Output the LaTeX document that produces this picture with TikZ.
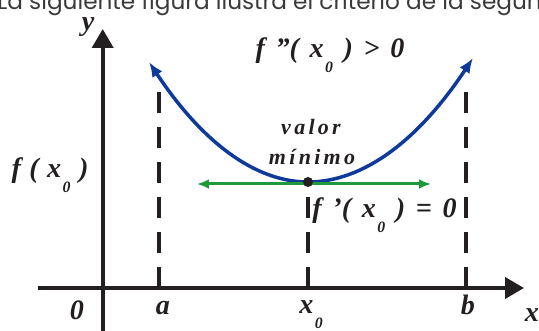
\documentclass[tikz,border=0pt]{standalone}
\usepackage{fontspec}
\setmainfont{Liberation Serif}
\newfontfamily\headfont{Poppins}
\usetikzlibrary{arrows.meta, positioning}
\definecolor{curveblue}{HTML}{0F3A9C}
\definecolor{tangentgreen}{HTML}{1E9A3C}
\definecolor{inkblack}{HTML}{231F20}
\definecolor{headgray}{HTML}{3A3A3A}
\newcommand{\xnull}{x\kern0.05em\raisebox{-0.5em}{\fontsize{9}{9}\selectfont 0}}
\newcommand{\gp}{\hspace{0.38em}}
\newcommand{\sgp}{\hspace{0.3em}}

\begin{document}
\begin{tikzpicture}[
    x=0.02cm, y=-0.02cm,
    every node/.style={font=\fontsize{16}{18}\selectfont\bfseries\itshape, text=inkblack, inner sep=0pt},
    spaced/.style={font=\fontsize{12.5}{14}\selectfont\bfseries\itshape\addfontfeatures{LetterSpace=15}},
    intro/.style={font=\headfont\fontsize{13.2}{15}\selectfont, text=headgray},
    axis/.style={line width=0.08cm, inkblack, -{Triangle[length=0.38cm, width=0.42cm]}},
    guide/.style={line width=0.07cm, inkblack, dash pattern=on 0.42cm off 0.28cm},
    curve/.style={line width=0.07cm, curveblue, {Latex[length=0.3cm, width=0.24cm]}-{Latex[length=0.3cm, width=0.24cm]}},
    tangent/.style={line width=0.06cm, tangentgreen, {Latex[length=0.24cm, width=0.2cm]}-{Latex[length=0.24cm, width=0.2cm]}},
    dot/.style={circle, fill=inkblack, minimum size=0.2cm, inner sep=0pt}
]
\useasboundingbox (0,0) rectangle (539,331);
\clip (0,0) rectangle (539,331);

\node[intro, anchor=base west] (heading) at (-3,10) {La siguiente figura ilustra el criterio de la segunda derivada};

\coordinate (xstart) at (38,288);
\coordinate (xend) at (524,288);
\coordinate (ybot) at (102.7,331);
\coordinate (ytop) at (102.7,29);
\coordinate (a) at (159,288);
\coordinate (atop) at (159,92);
\coordinate (b) at (466,288);
\coordinate (btop) at (466,92);
\coordinate (xo) at (308,288);
\coordinate (xotop) at (308,197);
\coordinate (vertex) at (308,182);
\coordinate (lefttip) at (149,62);
\coordinate (righttip) at (473,58);
\coordinate (tleft) at (197,184);
\coordinate (tright) at (431,184);

\draw[guide] (a) -- (atop);
\draw[guide] (b) -- (btop);
\draw[guide] (xo) -- (xotop);
\draw[axis] (xstart) -- (xend);
\draw[axis] (ybot) -- (ytop);

\draw[curve] (lefttip) .. controls (202,142) and (255,182) .. (vertex)
    .. controls (363,182) and (418,141) .. (righttip);
\draw[tangent] (tleft) -- (tright);
\node[dot] (minpt) at (vertex) {};

\node[anchor=base] (ylabel) at (88,31) {y};
\node[anchor=base] (xlabel) at (532,322) {x};
\node[anchor=base] (zero) at (77,320) {0};
\node[anchor=base] (alabel) at (163,315) {a};
\node[anchor=base] (xolabel) at (311,314) {\xnull};
\node[anchor=base] (blabel) at (468,315) {b};
\node[anchor=base] (fvalue) at (50,178) {f\sgp(\sgp\xnull\sgp)};
\node[anchor=base] (second) at (330,58) {f\gp”(\gp\xnull\gp)\gp>\gp0};
\node[anchor=base west] (first) at (312,218) {f\gp’(\gp\xnull\gp)\gp=\gp0};
\node[spaced, anchor=base] (valor) at (311,135) {valor};
\node[spaced, anchor=base] (minimo) at (312,165) {mínimo};

\end{tikzpicture}
\end{document}
